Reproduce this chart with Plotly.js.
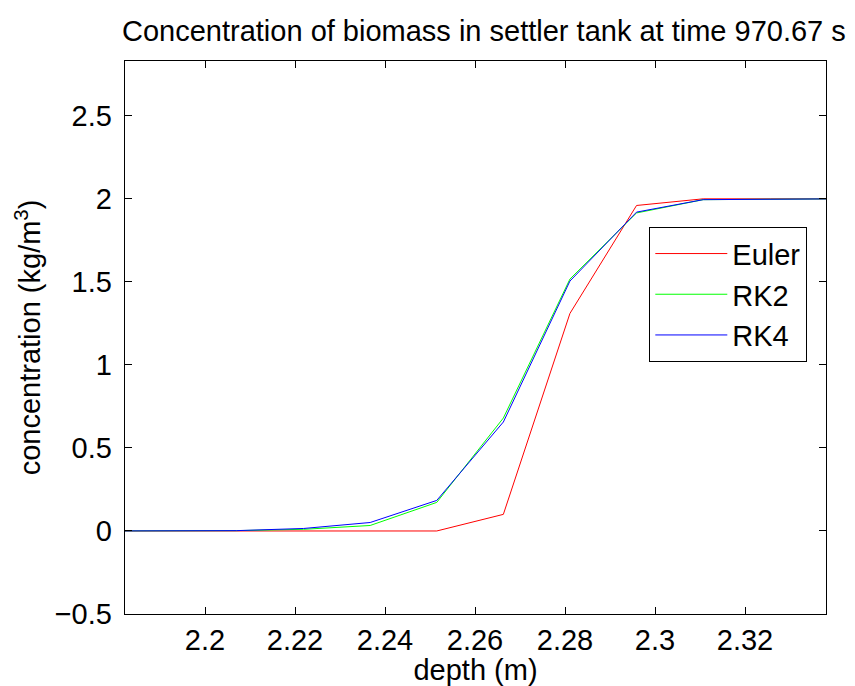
<!DOCTYPE html>
<html>
<head>
<meta charset="utf-8">
<script src="https://cdn.plot.ly/plotly-3.0.1.min.js"></script>
<style>html,body{margin:0;padding:0;background:#fff;}#chart{width:855px;height:686px;}</style>
</head>
<body>
<div id="chart"></div>
<script>
var depth = [2.1774, 2.1922, 2.2070, 2.2219, 2.2367, 2.2515, 2.2663, 2.2811, 2.2959, 2.3107, 2.3256, 2.3404];
var euler = [0, 0, 0, 0, 0, 0, 0.10, 1.31, 1.96, 2.00, 2.00, 2.00];
var rk2   = [0, 0, 0.002, 0.01, 0.033, 0.172, 0.68, 1.517, 1.915, 1.995, 2.0, 2.0];
var rk4   = [0, 0, 0.002, 0.015, 0.051, 0.184, 0.656, 1.505, 1.92, 1.995, 2.0, 2.0];
var seriesNames = ["Euler", "RK2", "RK4"];
var xTicks = [2.2, 2.22, 2.24, 2.26, 2.28, 2.3, 2.32];
var xTickText = ["2.2", "2.22", "2.24", "2.26", "2.28", "2.3", "2.32"];
var yTicks = [-0.5, 0, 0.5, 1, 1.5, 2, 2.5];
var yTickText = ["\u22120.5", "0", "0.5", "1", "1.5", "2", "2.5"];

var FONT = "Liberation Sans, Arial, Helvetica, sans-serif";
var FS = 29;

var traces = [
  {x: depth, y: euler, name: seriesNames[0], mode: "lines", line: {color: "#ff0000", width: 1}},
  {x: depth, y: rk2, name: seriesNames[1], mode: "lines", line: {color: "#00ff00", width: 1}},
  {x: depth, y: rk4, name: seriesNames[2], mode: "lines", line: {color: "#0000ff", width: 1}}
];

var layout = {
  width: 855, height: 686,
  paper_bgcolor: "#fff", plot_bgcolor: "#fff",
  font: {family: FONT, size: FS, color: "#000"},
  margin: {l: 125, r: 29, t: 61, b: 72, pad: 0},
  title: {text: "Concentration of biomass in settler tank at time 970.67 s",
          font: {family: FONT, size: FS, color: "#000"},
          xref: "paper", x: 0.512, xanchor: "center",
          yref: "container", y: 0.955, yanchor: "middle"},
  xaxis: {
    range: [2.18222, 2.338], autorange: false,
    tickvals: xTicks, ticktext: xTickText,
    ticks: "inside", ticklen: 7, tickwidth: 1, tickcolor: "#000",
    showline: true, linecolor: "#000", linewidth: 1.3, mirror: "ticks",
    showgrid: false, zeroline: false,
    tickfont: {family: FONT, size: FS, color: "#000"},
    title: {text: "depth (m)", font: {family: FONT, size: FS, color: "#000"}, standoff: 1}
  },
  yaxis: {
    range: [-0.5, 2.83], autorange: false,
    tickvals: yTicks, ticktext: yTickText,
    ticks: "inside", ticklen: 7, tickwidth: 1, tickcolor: "#000",
    showline: true, linecolor: "#000", linewidth: 1.3, mirror: "ticks",
    showgrid: false, zeroline: false,
    tickfont: {family: FONT, size: FS, color: "#000"},
    ticklabelstandoff: 6,
    title: {text: "concentration (kg/m<sup>3</sup>)", font: {family: FONT, size: FS, color: "#000"}, standoff: 5}
  },
  showlegend: true,
  legend: {
    x: 0.7475, y: 0.70, xanchor: "left", yanchor: "top",
    bgcolor: "#fff", bordercolor: "#000", borderwidth: 1.3,
    font: {family: FONT, size: FS, color: "#000"},
    itemwidth: 72, tracegroupgap: 0
  }
};

Plotly.newPlot("chart", traces, layout, {displayModeBar: false, staticPlot: true});
</script>
</body>
</html>
